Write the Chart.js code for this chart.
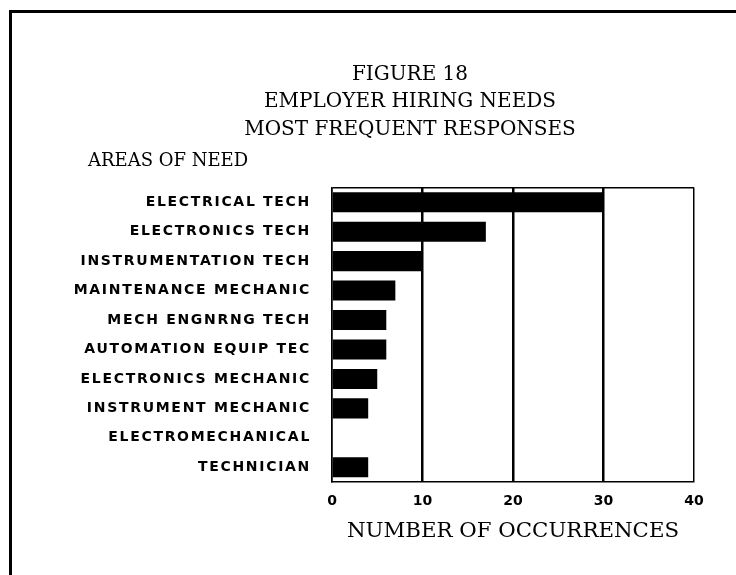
<!DOCTYPE html>
<html>
<head>
<meta charset="utf-8">
<script src="https://cdn.jsdelivr.net/npm/chart.js@4.4.0/dist/chart.umd.min.js"></script>
<style>
html,body{margin:0;padding:0;background:#fff;width:736px;height:575px;overflow:hidden;}
#frame{position:absolute;left:9px;top:10px;width:740px;height:565px;border-left:3px solid #000;border-top:3px solid #000;box-sizing:border-box;}
#c{position:absolute;left:0;top:0;}
</style>
</head>
<body>
<div id="frame"></div>
<canvas id="c" width="736" height="575"></canvas>
<script>
// ---- chart data ----
const titleLines = ['FIGURE 18', 'EMPLOYER HIRING NEEDS', 'MOST FREQUENT RESPONSES'];
const yAxisHeading = 'AREAS OF NEED';
const xAxisTitle = 'NUMBER OF OCCURRENCES';
const categories = [
  'ELECTRICAL TECH',
  'ELECTRONICS TECH',
  'INSTRUMENTATION TECH',
  'MAINTENANCE MECHANIC',
  'MECH ENGNRNG TECH',
  'AUTOMATION EQUIP TEC',
  'ELECTRONICS MECHANIC',
  'INSTRUMENT MECHANIC',
  'ELECTROMECHANICAL',
  'TECHNICIAN'
];
const occurrences = [30, 17, 10, 7, 6, 6, 5, 4, null, 4];
const xTicks = [0, 10, 20, 30, 40];

// ---- plugins ----
const labelSpacing = {
  id: 'labelSpacing',
  afterDatasetsDraw(chart) { chart.ctx.letterSpacing = '1.7px'; },
  afterDraw(chart) { chart.ctx.letterSpacing = '0px'; }
};
const areasHeading = {
  id: 'areasHeading',
  afterDraw(chart) {
    const ctx = chart.ctx, area = chart.chartArea, ys = chart.scales.y;
    ctx.save();
    ctx.letterSpacing = '0px';
    ctx.font = '18px "DejaVu Serif"';
    ctx.fillStyle = '#000';
    ctx.textAlign = 'left';
    ctx.textBaseline = 'middle';
    ctx.fillText(yAxisHeading, ys.left + 26, area.top - 26);
    ctx.restore();
  }
};

new Chart(document.getElementById('c'), {
  type: 'bar',
  data: {
    labels: categories,
    datasets: [{
      data: occurrences,
      backgroundColor: '#000',
      borderWidth: 0,
      categoryPercentage: 1,
      barPercentage: 0.68
    }]
  },
  options: {
    indexAxis: 'y',
    responsive: false,
    animation: false,
    layout: { padding: { left: 62, right: -22, top: 0, bottom: 0 } },
    plugins: {
      legend: { display: false },
      tooltip: { enabled: false },
      title: {
        display: true,
        text: titleLines,
        color: '#000',
        font: { family: '"DejaVu Serif"', size: 20, weight: 'normal', lineHeight: 27.5 / 20 },
        padding: { top: 61, bottom: 44 }
      }
    },
    scales: {
      x: {
        min: 0, max: 40,
        afterBuildTicks: s => { s.ticks = xTicks.map(v => ({ value: v })); },
        afterFit: s => { s.height = 93; s.paddingLeft = 0; s.paddingRight = 42; },
        ticks: {
          color: '#000',
          padding: 11,
          font: { family: '"DejaVu Sans"', size: 14, weight: 'bold' }
        },
        grid: {
          color: '#000',
          lineWidth: c => (c.tick && (c.tick.value === 0 || c.tick.value === 40)) ? 1.5 : 2.5,
          drawTicks: false
        },
        border: { display: true, color: '#000', width: 1.5 },
        title: {
          display: true,
          text: xAxisTitle,
          color: '#000',
          font: { family: '"DejaVu Serif"', size: 21.3, weight: 'normal' },
          padding: { top: 4, bottom: 31 }
        }
      },
      y: {
        afterFit: s => { s.width = 270; s.paddingTop = 0; s.paddingBottom = 0; },
        ticks: {
          z: 1,
          color: '#000',
          padding: 21,
          font: { family: '"DejaVu Sans"', size: 14, weight: 'bold' }
        },
        grid: {
          color: c => c.index === 0 ? '#000' : 'rgba(0,0,0,0)',
          lineWidth: 1.5,
          drawTicks: false
        },
        border: { display: true, color: '#000', width: 1.5 }
      }
    }
  },
  plugins: [labelSpacing, areasHeading]
});
</script>
</body>
</html>
